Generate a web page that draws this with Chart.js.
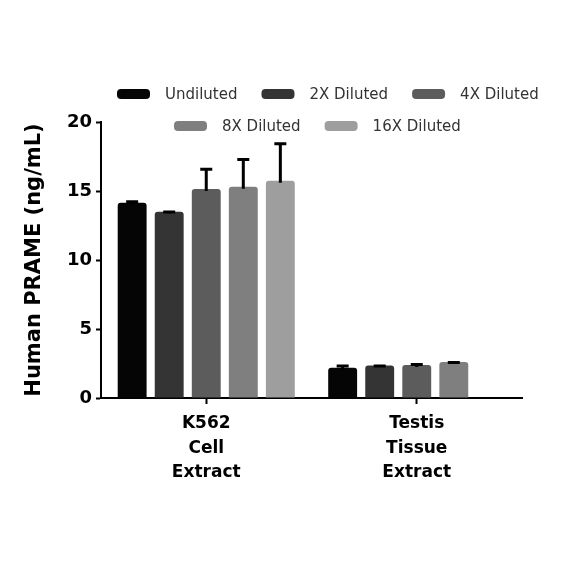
<!DOCTYPE html>
<html>
<head>
<meta charset="utf-8">
<script src="https://cdn.jsdelivr.net/npm/chart.js@4"></script>
<style>
  html, body { margin:0; padding:0; background:#fff; }
  #wrap { width:584px; height:584px; position:relative; }
</style>
</head>
<body>
<div id="wrap"><canvas id="chart" width="584" height="584"></canvas></div>
<script>
// --- Data ---
const categories = [['K562','Cell','Extract'], ['Testis','Tissue','Extract']];
const seriesNames = ['Undiluted','2X Diluted','4X Diluted','8X Diluted','16X Diluted'];
const seriesColors = ['#050505','#343434','#5c5c5c','#7f7f7f','#9e9e9e'];
const undiluted  = [14.15, 2.2];
const diluted2x  = [13.5, 2.35];
const diluted4x  = [15.15, 2.4];
const diluted8x  = [15.3, 2.6];
const diluted16x = [15.75, null];
const err_undiluted  = [0.15, 0.2];
const err_diluted2x  = [0.05, 0.05];
const err_diluted4x  = [1.5, 0.1];
const err_diluted8x  = [2.05, 0.05];
const err_diluted16x = [2.75, null];
const yTicks = [0, 5, 10, 15, 20];

const values = [undiluted, diluted2x, diluted4x, diluted8x, diluted16x];
const errors = [err_undiluted, err_diluted2x, err_diluted4x, err_diluted8x, err_diluted16x];

// --- Plugins ---
const errorBars = {
  id: 'errorBars',
  afterDatasetsDraw(chart){
    const ctx = chart.ctx, y = chart.scales.y;
    ctx.save();
    ctx.strokeStyle = '#000'; ctx.lineWidth = 3; ctx.lineCap = 'butt';
    chart.data.datasets.forEach((ds, i) => {
      const meta = chart.getDatasetMeta(i);
      meta.data.forEach((bar, j) => {
        const v = ds.data[j], e = errors[i][j];
        if(v == null || e == null) return;
        const top = y.getPixelForValue(v + e);
        ctx.beginPath();
        ctx.moveTo(bar.x, bar.y + 2); ctx.lineTo(bar.x, top);
        ctx.moveTo(bar.x - 6, top + 1); ctx.lineTo(bar.x + 6, top + 1);
        ctx.stroke();
      });
    });
    ctx.restore();
  }
};

// rows of the legend: [item indices, starting x, centre y]
const legendRows = [[[0,1,2], 117, 94], [[3,4], 174, 126]];
const customLegend = {
  id: 'customLegend',
  afterDraw(chart){
    const ctx = chart.ctx;
    ctx.save();
    ctx.font = '15px "DejaVu Sans"';
    ctx.textBaseline = 'middle';
    for(const [items, x0, cy] of legendRows){
      let x = x0;
      for(const i of items){
        ctx.fillStyle = seriesColors[i];
        ctx.beginPath();
        ctx.roundRect(x, cy - 5, 33, 10, 4);
        ctx.fill();
        x += 48;
        ctx.fillStyle = '#333';
        ctx.fillText(seriesNames[i], x, cy + 1);
        x += ctx.measureText(seriesNames[i]).width + 24;
      }
    }
    ctx.restore();
  }
};

const datasets = seriesNames.map((name, i) => ({
  label: name,
  data: values[i],
  backgroundColor: seriesColors[i],
  borderRadius: 3,
  borderSkipped: 'bottom',
  categoryPercentage: 0.88,
  barPercentage: 0.78
}));

new Chart(document.getElementById('chart'), {
  type: 'bar',
  data: { labels: categories, datasets },
  plugins: [errorBars, customLegend],
  options: {
    responsive: false,
    animation: false,
    layout: { padding: { top: 122, right: 62, left: 0, bottom: 0 } },
    plugins: { legend: { display: false }, tooltip: { enabled: false } },
    scales: {
      x: {
        afterFit(s){ s.height = 186; },
        grid: { display: true, drawOnChartArea: false, offset: false, tickLength: 6, tickWidth: 2, tickColor: '#000' },
        border: { display: true, color: '#000', width: 2 },
        ticks: { color: '#000', padding: 7, font: { family: 'DejaVu Sans', size: 17, weight: 'bold', lineHeight: 1.46 } }
      },
      y: {
        min: 0, max: 20,
        afterFit(s){ s.width = 101; },
        afterBuildTicks(s){ s.ticks = yTicks.map(v => ({ value: v })); },
        grid: { display: true, drawOnChartArea: false, tickLength: 5, tickWidth: 2, tickColor: '#000' },
        border: { display: true, color: '#000', width: 2 },
        ticks: { color: '#000', padding: 4, font: { family: 'DejaVu Sans', size: 18, weight: 'bold' } },
        title: { display: true, text: 'Human PRAME (ng/mL)', color: '#000', padding: { top: 22, bottom: 0 },
                 font: { family: 'DejaVu Sans', size: 21, weight: 'bold' } }
      }
    }
  }
});
</script>
</body>
</html>
